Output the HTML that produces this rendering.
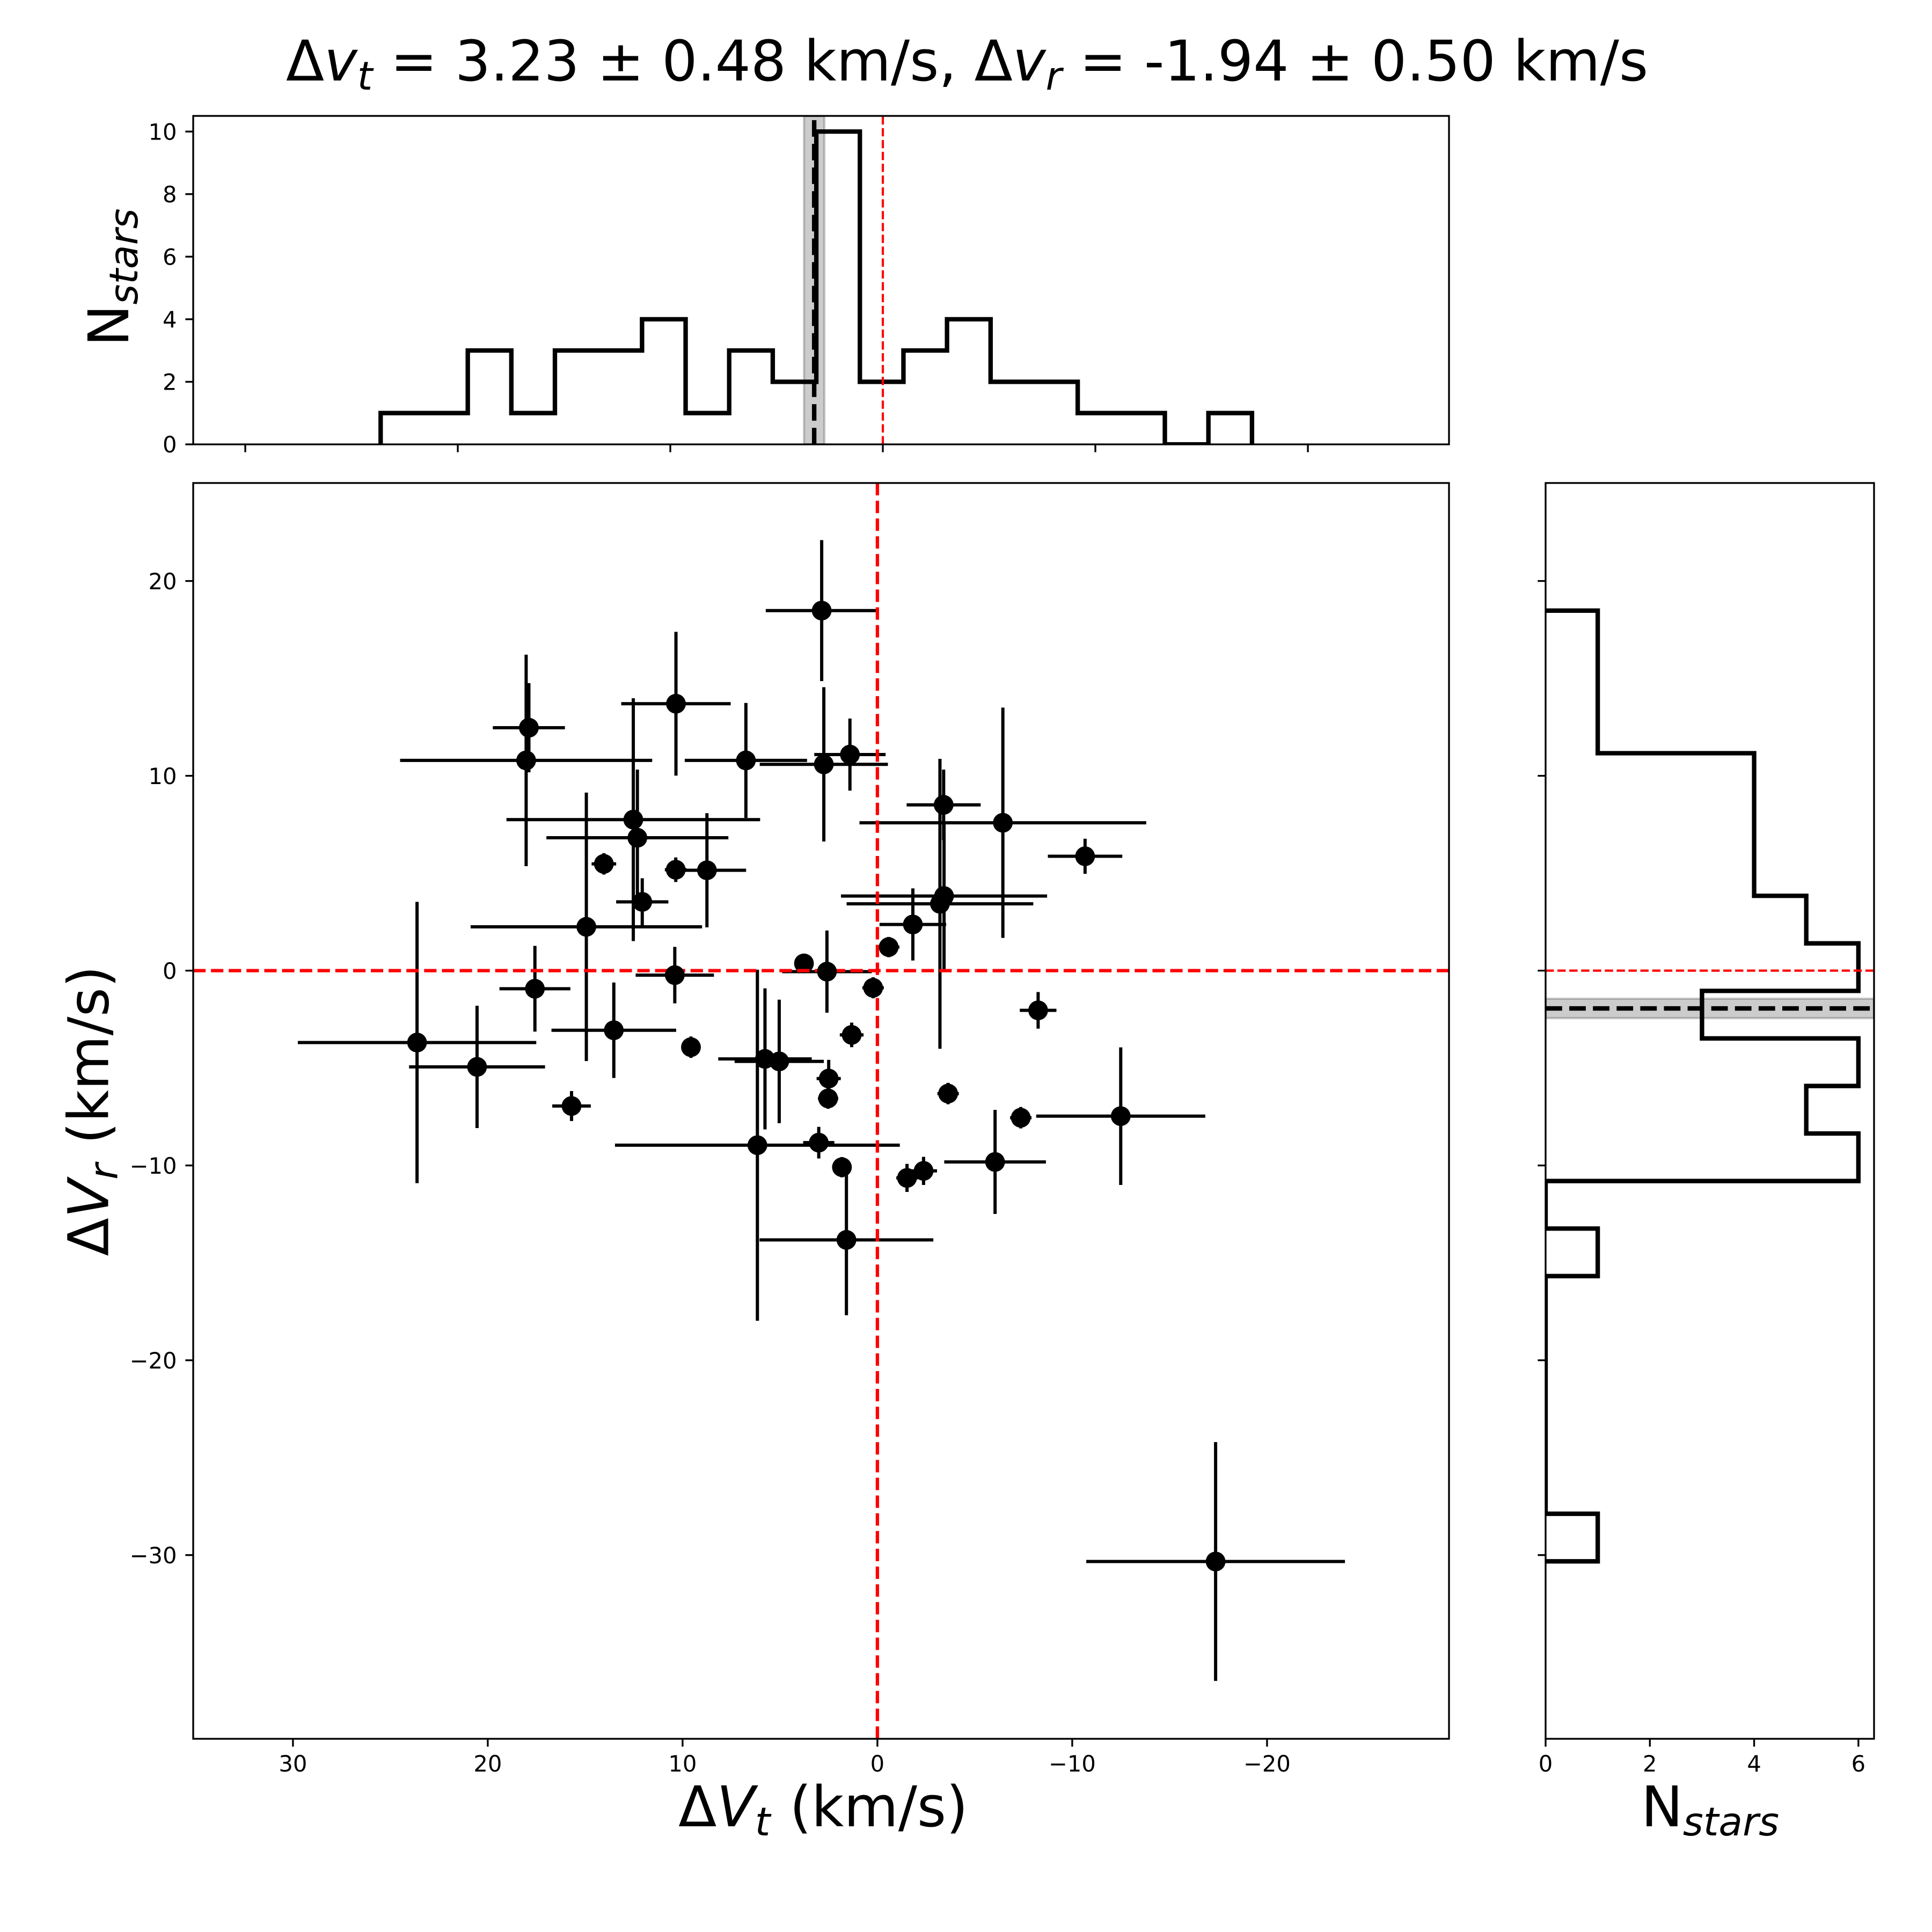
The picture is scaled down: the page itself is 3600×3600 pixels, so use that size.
<!DOCTYPE html>
<html lang="en">
<head>
<meta charset="utf-8">
<title>Velocity offsets chart</title>
<style>
html,body{margin:0;padding:0;background:#fff;width:3600px;height:3600px;overflow:hidden}
svg{display:block}
text{font-family:"DejaVu Sans","Liberation Sans",sans-serif;fill:#000}
.tick-label{font-size:41.67px}
.big{font-size:104.17px}
.it{font-style:italic}
</style>
</head>
<body>
<svg id="chart" xmlns="http://www.w3.org/2000/svg" width="3600" height="3600" viewBox="0 0 3600 3600">
  <defs>
    <clipPath id="clip-main"><rect x="360" y="900" width="2340" height="2340"/></clipPath>
    <clipPath id="clip-top"><rect x="360" y="216" width="2340" height="612"/></clipPath>
    <clipPath id="clip-right"><rect x="2880" y="900" width="612" height="2340"/></clipPath>
  </defs>
  <rect x="0" y="0" width="3600" height="3600" fill="#fff"/>
  <g id="top-panel"></g>
  <g id="main-panel"></g>
  <g id="right-panel"></g>

  <text class="big" x="1802" y="150" text-anchor="middle" xml:space="preserve">Δ<tspan class="it">v</tspan><tspan class="it" font-size="72.9" dy="17">t</tspan><tspan dy="-17"> = 3.23 ± 0.48 km/s, Δ</tspan><tspan class="it">v</tspan><tspan class="it" font-size="72.9" dy="17">r</tspan><tspan dy="-17"> = -1.94 ± 0.50 km/s</tspan></text>

  <text class="big" x="1534" y="3403" text-anchor="middle" xml:space="preserve">Δ<tspan class="it">V</tspan><tspan class="it" font-size="72.9" dy="17">t</tspan><tspan dy="-17" dx="3"> (km/s)</tspan></text>

  <text class="big" transform="translate(201.7,2070) rotate(-90)" text-anchor="middle" xml:space="preserve">Δ<tspan class="it">V</tspan><tspan class="it" font-size="72.9" dy="17">r</tspan><tspan dy="-17" dx="3"> (km/s)</tspan></text>

  <text class="big" transform="translate(239,517) rotate(-90)" text-anchor="middle" xml:space="preserve">N<tspan class="it" font-size="72.9" dy="17">stars</tspan></text>

  <text class="big" x="3186.5" y="3403" text-anchor="middle" xml:space="preserve">N<tspan class="it" font-size="72.9" dy="17">stars</tspan></text>
</svg>

<script>
// Star measurements (km/s)
const xValues = [17.89,18.03,12.53,12.32,14.04,10.35,12.07,14.94,10.34,10.40,17.58,23.63,20.55,13.53,15.70,9.57,6.16,5.77,5.04,2.59,3.77,0.22,1.32,2.50,2.53,3.01,1.82,1.59,-1.52,-2.37,-3.63,-7.36,-6.04,-12.49,-8.25,-3.21,-3.40,-3.42,-6.44,-10.66,-1.82,-0.58,1.41,2.75,6.75,2.86,8.75,-17.36];
const yValues = [12.47,10.79,7.75,6.82,5.48,5.18,3.53,2.25,13.70,-0.23,-0.93,-3.69,-4.94,-3.06,-6.95,-3.93,-8.96,-4.53,-4.66,-0.05,0.37,-0.88,-3.30,-5.54,-6.56,-8.83,-10.09,-13.82,-10.64,-10.28,-6.31,-7.55,-9.82,-7.47,-2.04,3.43,8.51,3.83,7.59,5.87,2.37,1.21,11.09,10.59,10.79,18.48,5.15,-30.33];
const xErrors = [1.85,6.47,6.51,4.67,0.63,0.56,1.34,5.94,2.81,2.01,1.82,6.12,3.49,3.20,0.99,0.50,7.31,2.40,2.29,2.30,0.30,0.55,0.61,0.62,0.52,0.80,0.50,4.46,0.55,0.69,0.55,0.55,2.61,4.34,0.94,4.79,1.90,5.29,7.36,1.91,1.71,0.55,1.83,3.29,3.14,2.87,2.01,6.64];
const yErrors = [2.29,5.43,6.23,3.50,0.55,0.63,1.21,6.89,3.69,1.45,2.20,7.22,3.14,2.45,0.77,0.55,9.01,3.62,3.17,2.11,0.30,0.54,0.63,0.96,0.53,0.81,0.52,3.87,0.72,0.72,0.55,0.55,2.67,3.53,0.94,7.44,1.81,3.83,5.91,0.90,1.85,0.52,1.85,3.96,2.95,3.62,2.93,6.13];
const markerBehindGuideIndex = 20;

// Histogram counts and bin layout
const xHistCounts = [1,1,3,1,3,3,4,1,3,2,10,2,3,4,2,2,1,1,0,1];
const xHistStart = 23.63;
const xHistBinWidth = 2.05;
const yHistCounts = [1,1,1,4,4,4,5,6,3,6,5,6,0,1,0,0,0,0,0,1];
const yHistStart = 18.48;
const yHistBinWidth = 2.44;

// Summary statistics
const meanVt = 3.23;
const meanVtError = 0.48;
const meanVr = -1.94;
const meanVrError = 0.50;

// Tick labels
const mainXTicks = [30,20,10,0,-10,-20];
const mainYTicks = [20,10,0,-10,-20,-30];
const topYTicks = [0,2,4,6,8,10];
const rightXTicks = [0,2,4,6];

// Axis limits
const mainXLim = [35.12,-29.34];
const mainYLim = [-39.43,25.03];
const topXLim = [32.45,-26.64];
const topYLim = [0,10.5];
const rightXLim = [0,6.3];

// Axis functions
function mainX(v){return 360+(v-mainXLim[0])/(mainXLim[1]-mainXLim[0])*2340;}
function mainY(v){return 3240-(v-mainYLim[0])/(mainYLim[1]-mainYLim[0])*2340;}
function topX(v){return 360+(v-topXLim[0])/(topXLim[1]-topXLim[0])*2340;}
function topY(v){return 828-(v-topYLim[0])/(topYLim[1]-topYLim[0])*612;}
function rightX(v){return 2880+(v-rightXLim[0])/(rightXLim[1]-rightXLim[0])*612;}

const NS='http://www.w3.org/2000/svg';
function make(tag,attrs,parent){
  const el=document.createElementNS(NS,tag);
  for(const k in attrs){el.setAttribute(k,attrs[k]);}
  parent.appendChild(el);
  return el;
}
function minus(v){return v<0?'\u2212'+Math.abs(v):String(v);}

const topPanel=document.getElementById('top-panel');
const mainPanel=document.getElementById('main-panel');
const rightPanel=document.getElementById('right-panel');

const SPINE=3.33, TICK=14.6;
const RED='#ff0000';

function xTick(parent,px,yBase,label){
  const t=make('line',{x1:px,x2:px,y1:yBase,y2:yBase+TICK,stroke:'#000','stroke-width':SPINE},parent);
  
  
  if(label!==null){
    const s=make('text',{x:px,y:yBase+61,'text-anchor':'middle','class':'tick-label'},parent);
    s.textContent=label;
    
    
  }
}
function yTick(parent,py,xBase,label){
  const t=make('line',{x1:xBase-TICK,x2:xBase,y1:py,y2:py,stroke:'#000','stroke-width':SPINE},parent);
  
  
  if(label!==null){
    const s=make('text',{x:xBase-30.5,y:py+15.2,'text-anchor':'end','class':'tick-label'},parent);
    s.textContent=label;
    
    
  }
}
function spines(parent,x,y,w,h){
  const r=make('rect',{x:x,y:y,width:w,height:h,fill:'none',stroke:'#000','stroke-width':SPINE},parent);
  
  
}

/* ---------- top histogram ---------- */
const topClip=make('g',{'clip-path':'url(#clip-top)'},topPanel);



let topD='M'+topX(xHistStart)+' '+topY(0);
xHistCounts.forEach(function(c,i){
  const a=xHistStart-i*xHistBinWidth, b=xHistStart-(i+1)*xHistBinWidth;
  topD+=' L'+topX(a)+' '+topY(c)+' L'+topX(b)+' '+topY(c);
});
topD+=' L'+topX(xHistStart-xHistCounts.length*xHistBinWidth)+' '+topY(0);
const topHist=make('path',{d:topD,fill:'none',stroke:'#000','stroke-width':8.33,'stroke-linejoin':'miter'},topClip);



const topBand=make('rect',{x:topX(meanVt+meanVtError),y:216,width:topX(meanVt-meanVtError)-topX(meanVt+meanVtError),height:612,fill:'#000','fill-opacity':0.2,stroke:'#000','stroke-opacity':0.2,'stroke-width':4.17},topClip);



const topMean=make('line',{x1:topX(meanVt),x2:topX(meanVt),y1:828,y2:216,stroke:'#000','stroke-width':8.33,'stroke-dasharray':'30.8 13.3'},topClip);



const topZero=make('line',{x1:topX(0),x2:topX(0),y1:828,y2:216,stroke:RED,'stroke-width':4.17,'stroke-dasharray':'15.4 6.67'},topClip);



mainXTicks.forEach(function(v){xTick(topPanel,topX(v),828,null);});
topYTicks.forEach(function(v){yTick(topPanel,topY(v),360,minus(v));});
spines(topPanel,360,216,2340,612);

/* ---------- main scatter ---------- */
const mainClip=make('g',{'clip-path':'url(#clip-main)'},mainPanel);



xValues.forEach(function(x,i){
  const y=yValues[i];
  const h=make('line',{x1:mainX(x+xErrors[i]),x2:mainX(x-xErrors[i]),y1:mainY(y),y2:mainY(y),stroke:'#000','stroke-width':6},mainClip);
  
  
  const v=make('line',{x1:mainX(x),x2:mainX(x),y1:mainY(y+yErrors[i]),y2:mainY(y-yErrors[i]),stroke:'#000','stroke-width':6},mainClip);
  
  
});

function drawStar(i){
  const c=make('circle',{cx:mainX(xValues[i]),cy:mainY(yValues[i]),r:18.4,fill:'#000'},mainClip);
  
  
}
drawStar(markerBehindGuideIndex);

const mainZeroV=make('line',{x1:mainX(0),x2:mainX(0),y1:3240,y2:900,stroke:RED,'stroke-width':6.25,'stroke-dasharray':'23.1 10'},mainClip);



const mainZeroH=make('line',{x1:360,x2:2700,y1:mainY(0),y2:mainY(0),stroke:RED,'stroke-width':6.25,'stroke-dasharray':'23.1 10'},mainClip);



xValues.forEach(function(x,i){
  if(i!==markerBehindGuideIndex){drawStar(i);}
});

mainXTicks.forEach(function(v){xTick(mainPanel,mainX(v),3240,minus(v));});
mainYTicks.forEach(function(v){yTick(mainPanel,mainY(v),360,minus(v));});
spines(mainPanel,360,900,2340,2340);

/* ---------- right histogram ---------- */
const rightClip=make('g',{'clip-path':'url(#clip-right)'},rightPanel);



let rightD='M'+rightX(0)+' '+mainY(yHistStart);
yHistCounts.forEach(function(c,i){
  const a=yHistStart-i*yHistBinWidth, b=yHistStart-(i+1)*yHistBinWidth;
  rightD+=' L'+rightX(c)+' '+mainY(a)+' L'+rightX(c)+' '+mainY(b);
});
rightD+=' L'+rightX(0)+' '+mainY(yHistStart-yHistCounts.length*yHistBinWidth);
const rightHist=make('path',{d:rightD,fill:'none',stroke:'#000','stroke-width':8.33,'stroke-linejoin':'miter'},rightClip);



const rightBand=make('rect',{x:2880,y:mainY(meanVr+meanVrError),width:612,height:mainY(meanVr-meanVrError)-mainY(meanVr+meanVrError),fill:'#000','fill-opacity':0.2,stroke:'#000','stroke-opacity':0.2,'stroke-width':4.17},rightClip);



const rightMean=make('line',{x1:2880,x2:3492,y1:mainY(meanVr),y2:mainY(meanVr),stroke:'#000','stroke-width':8.33,'stroke-dasharray':'30.8 13.3'},rightClip);



const rightZero=make('line',{x1:2880,x2:3492,y1:mainY(0),y2:mainY(0),stroke:RED,'stroke-width':4.17,'stroke-dasharray':'15.4 6.67'},rightClip);



mainYTicks.forEach(function(v){yTick(rightPanel,mainY(v),2880,null);});
rightXTicks.forEach(function(v){xTick(rightPanel,rightX(v),3240,minus(v));});
spines(rightPanel,2880,900,612,2340);
</script>
</body>
</html>
